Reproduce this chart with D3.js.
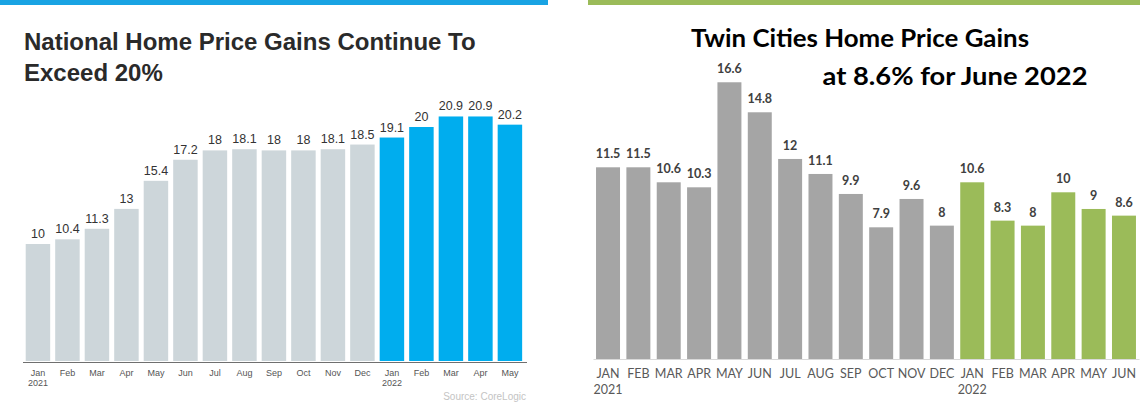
<body style="margin:0">
  <script src='https://d3js.org/d3.v7.min.js' charset='utf-8'></script>
  <script>
    var W = 1148, H = 417;

    // national (CoreLogic) series
    var natMonths = ['Jan', 'Feb', 'Mar', 'Apr', 'May', 'Jun', 'Jul', 'Aug', 'Sep', 'Oct', 'Nov', 'Dec',
                     'Jan', 'Feb', 'Mar', 'Apr', 'May'];
    var natYears = { 0: '2021', 12: '2022' };
    var natValues = [10, 10.4, 11.3, 13, 15.4, 17.2, 18, 18.1, 18, 18, 18.1, 18.5, 19.1, 20, 20.9, 20.9, 20.2];

    // twin cities series
    var twinMonths = ['JAN', 'FEB', 'MAR', 'APR', 'MAY', 'JUN', 'JUL', 'AUG', 'SEP', 'OCT', 'NOV', 'DEC',
                      'JAN', 'FEB', 'MAR', 'APR', 'MAY', 'JUN'];
    var twinYears = { 0: '2021', 12: '2022' };
    var twinValues = [11.5, 11.5, 10.6, 10.3, 16.6, 14.8, 12, 11.1, 9.9, 7.9, 9.6, 8, 10.6, 8.3, 8, 10, 9, 8.6];

    const svg = d3.select('body').append('svg')
      .attr('width', W)
      .attr('height', H)
      .style('display', 'block')
      .style('background', '#fff');

    // ---------- left panel ----------
    svg.append('rect').attr('x', 0).attr('y', 0).attr('width', 548).attr('height', 5).attr('fill', '#19a3e3');

    var natTitle = svg.append('text')
      .attr('font-family', 'Liberation Sans, Arial, sans-serif')
      .attr('font-weight', 'bold')
      .attr('font-size', 24)
      .attr('fill', '#2a2a2a');
    natTitle.append('tspan').attr('x', 24).attr('y', 50).text('National Home Price Gains Continue To');
    natTitle.append('tspan').attr('x', 24).attr('y', 81).text('Exceed 20%');

    var natX = d3.scaleBand()
      .domain(d3.range(natValues.length))
      .range([22.75, 525.1])
      .paddingInner(0.17)
      .paddingOuter(0.1);

    var natY = d3.scaleLinear()
      .domain([0, 22])
      .range([361, 361 - 22 * 11.7]);

    var natG = svg.append('g');
    natG.selectAll('rect')
      .data(natValues)
      .join('rect')
        .attr('x', (d, i) => natX(i))
        .attr('y', d => natY(d))
        .attr('width', natX.bandwidth())
        .attr('height', d => natY(0) - natY(d))
        .attr('fill', (d, i) => i >= 12 ? '#00adee' : '#cdd6da');

    natG.selectAll('text.val')
      .data(natValues)
      .join('text')
        .attr('class', 'val')
        .attr('x', (d, i) => natX(i) + natX.bandwidth() / 2)
        .attr('y', d => natY(d) - 6)
        .attr('text-anchor', 'middle')
        .attr('font-family', 'Liberation Sans, Arial, sans-serif')
        .attr('font-size', 12.5)
        .attr('fill', '#333')
        .text(d => d);

    var natAxis = svg.append('g')
      .attr('transform', 'translate(0,362)')
      .call(d3.axisBottom(natX).tickSize(0).tickSizeOuter(0).tickPadding(8).tickFormat(i => natMonths[i]));
    natAxis.select('.domain').attr('stroke', '#6f6f6f').attr('d', 'M23,0.5H527');
    natAxis.selectAll('text')
      .attr('font-family', 'Liberation Sans, Arial, sans-serif')
      .attr('font-size', 9)
      .attr('fill', '#555')
      .each(function(i) {
        if (natYears[i]) {
          d3.select(this).append('tspan').attr('x', 0).attr('dy', '1.05em').text(natYears[i]);
        }
      });

    svg.append('text')
      .attr('x', 526).attr('y', 400)
      .attr('text-anchor', 'end')
      .attr('font-family', 'Liberation Sans, Arial, sans-serif')
      .attr('font-size', 10)
      .attr('fill', '#c4c4c4')
      .text('Source: CoreLogic');

    // ---------- right panel ----------
    svg.append('rect').attr('x', 588).attr('y', 0).attr('width', 552).attr('height', 5).attr('fill', '#9bbb59');

    svg.append('text')
      .attr('x', 860).attr('y', 47)
      .attr('text-anchor', 'middle')
      .attr('font-family', 'Lato, sans-serif')
      .attr('font-weight', 'bold')
      .attr('font-size', 24)
      .attr('fill', '#000')
      .attr('textLength', 338)
      .attr('lengthAdjust', 'spacingAndGlyphs')
      .text('Twin Cities Home Price Gains');

    svg.append('text')
      .attr('x', 955).attr('y', 85)
      .attr('text-anchor', 'middle')
      .attr('font-family', 'Lato, sans-serif')
      .attr('font-weight', 'bold')
      .attr('font-size', 24)
      .attr('fill', '#000')
      .attr('textLength', 265)
      .attr('lengthAdjust', 'spacingAndGlyphs')
      .text('at 8.6% for June 2022');

    var twinX = d3.scaleBand()
      .domain(d3.range(twinValues.length))
      .range([593, 1139])
      .paddingInner(0.21)
      .paddingOuter(0.1);

    var twinY = d3.scaleLinear()
      .domain([0, 17])
      .range([359, 359 - 17 * 16.67]);

    var twinG = svg.append('g');
    twinG.selectAll('rect')
      .data(twinValues)
      .join('rect')
        .attr('x', (d, i) => twinX(i))
        .attr('y', d => twinY(d))
        .attr('width', twinX.bandwidth())
        .attr('height', d => twinY(0) - twinY(d))
        .attr('fill', (d, i) => i >= 12 ? '#9bbb59' : '#a5a5a5');

    twinG.selectAll('text.val')
      .data(twinValues)
      .join('text')
        .attr('class', 'val')
        .attr('x', (d, i) => twinX(i) + twinX.bandwidth() / 2)
        .attr('y', d => twinY(d) - 9)
        .attr('text-anchor', 'middle')
        .attr('font-family', 'Lato, sans-serif')
        .attr('font-weight', 'bold')
        .attr('font-size', 12.5)
        .attr('fill', '#404040')
        .text(d => d);

    var twinAxis = svg.append('g')
      .attr('transform', 'translate(0,359)')
      .call(d3.axisBottom(twinX).tickSize(0).tickSizeOuter(0).tickPadding(10).tickFormat(i => twinMonths[i]));
    twinAxis.select('.domain').attr('stroke', '#d9d9d9');
    twinAxis.selectAll('text')
      .attr('font-family', 'Lato, sans-serif')
      .attr('font-size', 12.5)
      .attr('fill', '#595959')
      .each(function(i) {
        if (twinYears[i]) {
          d3.select(this).append('tspan').attr('x', 0).attr('dy', '1.25em').text(twinYears[i]);
        }
      });
  </script>
</body>
